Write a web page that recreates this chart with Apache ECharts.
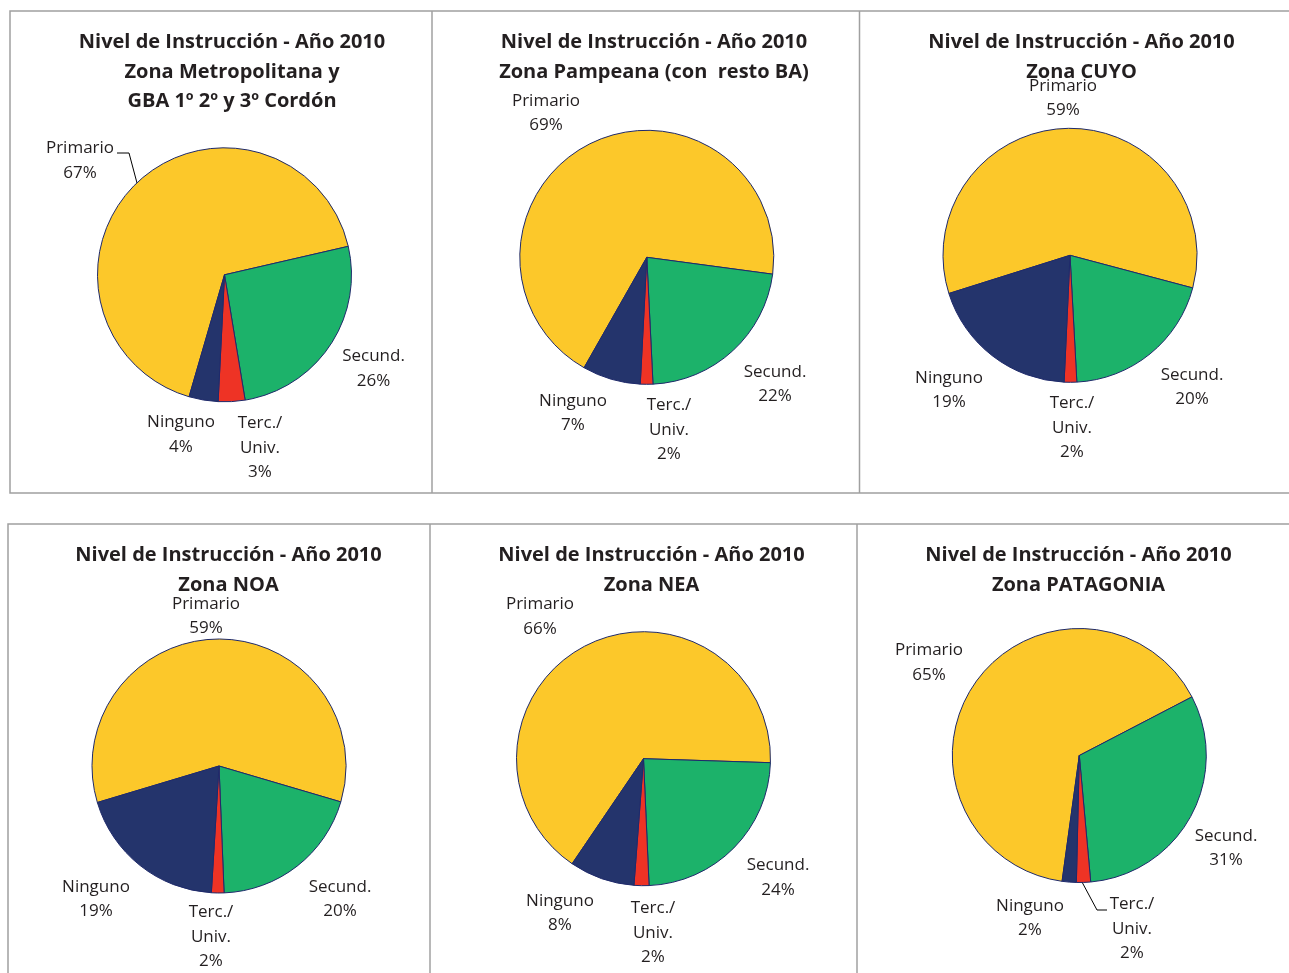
<!DOCTYPE html>
<html>
<head>
<meta charset="utf-8">
<script src="https://cdn.jsdelivr.net/npm/echarts@6/dist/echarts.min.js"></script>
<style>
html,body{margin:0;padding:0;background:#fff;}
#chart{width:1289px;height:973px;}
</style>
</head>
<body>
<div id="chart"></div>
<script>
// ---- Data ----
const categories = ['Primario', 'Secund.', 'Terc./Univ.', 'Ninguno'];
const titles = [
  'Nivel de Instrucción - Año 2010\nZona Metropolitana y\nGBA 1º 2º y 3º Cordón',
  'Nivel de Instrucción - Año 2010\nZona Pampeana (con  resto BA)',
  'Nivel de Instrucción - Año 2010\nZona CUYO',
  'Nivel de Instrucción - Año 2010\nZona NOA',
  'Nivel de Instrucción - Año 2010\nZona NEA',
  'Nivel de Instrucción - Año 2010\nZona PATAGONIA'
];
const metropolitana = [66.9, 26.0, 3.4, 3.7];
const pampeana = [68.9, 22.1, 1.6, 7.4];
const cuyo = [59.0, 20.0, 1.6, 19.4];
const noa = [59.2, 19.8, 1.6, 19.4];
const nea = [66.0, 23.8, 1.9, 8.3];
const patagonia = [65.2, 31.2, 1.8, 1.8];
const zoneValues = [metropolitana, pampeana, cuyo, noa, nea, patagonia];

// ---- Layout / style (not data) ----
const colors = ['#FCC82A', '#1CB26A', '#EE3325', '#24346C'];
const pieCenters = [[224.5, 274.8], [646.8, 257.3], [1070, 255.3], [219, 766], [643.5, 758.7], [1079.3, 755.5]];
const startAngles = [253.8, 240.4, 197.5, 196.7, 235.8, 262.2];
const titleCenters = [[227, 23], [649, 23], [1076.5, 23], [223.5, 536], [646.5, 536], [1073.5, 536]];
const labelPos = [
  [[80, 160.5], [373.5, 368.5], [260, 448], [181, 434.5]],
  [[546, 113], [775, 384], [669, 430], [573, 413]],
  [[1063, 98], [1192, 387], [1072, 428], [949, 390]],
  [[206, 616], [340, 899], [211, 937], [96, 899]],
  [[540, 616.5], [778, 877.5], [653, 933], [560, 913]],
  [[929, 662.5], [1226, 848], [1132, 929], [1030, 918]]
];
const leaderLines = {
  '0-0': [[137, 183], [129, 153], [117, 153]],
  '5-2': [[1082, 882], [1097, 910], [1107, 910]]
};

const textColor = '#231F20';
const labelFont = 'Open Sans';

const series = zoneValues.map((vals, si) => ({
  type: 'pie',
  radius: 127,
  center: pieCenters[si],
  startAngle: startAngles[si],
  clockwise: true,
  avoidLabelOverlap: false,
  percentPrecision: 0,
  animation: false,
  silent: true,
  itemStyle: { borderColor: '#1F2A6B', borderWidth: 1 },
  label: {
    show: true,
    position: 'outside',
    color: textColor,
    fontFamily: labelFont,
    fontSize: 17,
    lineHeight: 24.5,
    align: 'center',
    formatter: p => p.name.replace('/', '/\n') + '\n' + p.percent + '%'
  },
  labelLine: { show: false, lineStyle: { color: '#000', width: 1 }, length: 5, length2: 5 },
  labelLayout: p => {
    const pos = labelPos[si][p.dataIndex];
    const res = { x: pos[0], y: pos[1], align: 'center', verticalAlign: 'middle' };
    const key = si + '-' + p.dataIndex;
    if (leaderLines[key]) res.labelLinePoints = leaderLines[key];
    return res;
  },
  data: categories.map((c, i) => {
    const item = { name: c, value: vals[i], itemStyle: { color: colors[i] } };
    if (leaderLines[si + '-' + i]) item.labelLine = { show: true };
    return item;
  })
}));

const title = titles.map((t, i) => ({
  text: t,
  left: titleCenters[i][0],
  top: titleCenters[i][1],
  textAlign: 'center',
  textStyle: {
    fontFamily: labelFont,
    fontWeight: 'bold',
    fontSize: 20,
    lineHeight: 29.5,
    color: textColor
  }
}));

const borderStyle = { stroke: '#A0A0A0', lineWidth: 1.5, fill: null };
const graphic = [
  { type: 'rect', shape: { x: 10, y: 11, width: 1400, height: 482 }, style: borderStyle, silent: true },
  { type: 'line', shape: { x1: 432, y1: 11, x2: 432, y2: 493 }, style: borderStyle, silent: true },
  { type: 'line', shape: { x1: 859.5, y1: 11, x2: 859.5, y2: 493 }, style: borderStyle, silent: true },
  { type: 'rect', shape: { x: 8, y: 524, width: 1400, height: 600 }, style: borderStyle, silent: true },
  { type: 'line', shape: { x1: 430, y1: 524, x2: 430, y2: 1000 }, style: borderStyle, silent: true },
  { type: 'line', shape: { x1: 857, y1: 524, x2: 857, y2: 1000 }, style: borderStyle, silent: true }
];

const chart = echarts.init(document.getElementById('chart'), null, { renderer: 'canvas' });
chart.setOption({
  backgroundColor: '#fff',
  animation: false,
  title: title,
  graphic: graphic,
  series: series
});
</script>
</body>
</html>
